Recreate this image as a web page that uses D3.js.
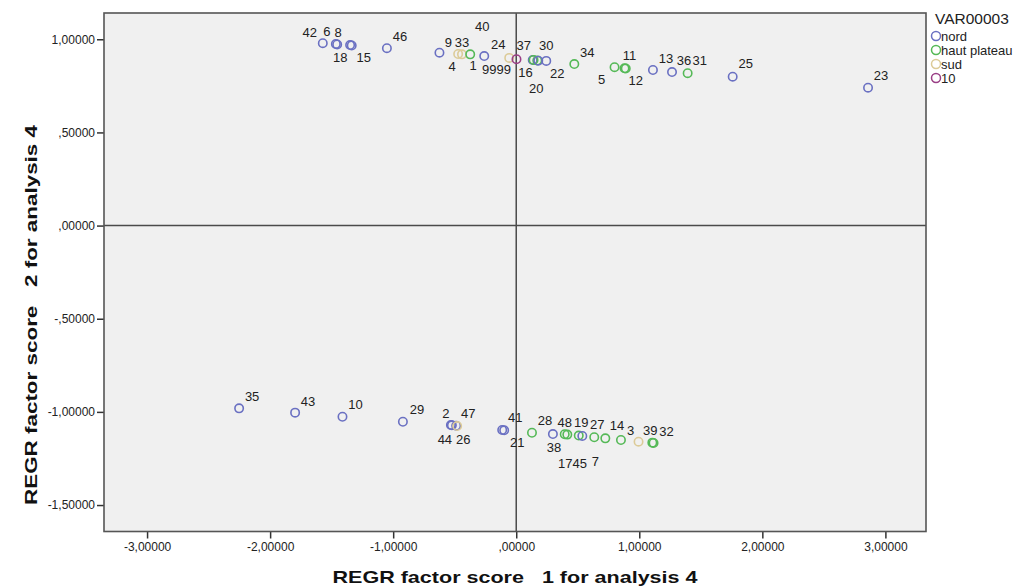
<!DOCTYPE html>
<html>
<head>
<meta charset="utf-8">
<script src="https://cdn.jsdelivr.net/npm/d3@7"></script>
<style>
  html, body { margin: 0; padding: 0; background: #ffffff; }
  svg { display: block; font-family: Arial, "Liberation Sans", sans-serif; }
</style>
</head>
<body>
<svg id="chart" width="1021" height="586"></svg>
<script>
// Case identifiers shown next to each point
const caseIds = [
  "42", "6", "18", "8", "15", "46", "9", "4", "33", "1", "24", "40", "9999",
  "37", "16", "20", "22", "30", "34", "5", "11", "12", "13", "36", "31", "25", "23",
  "35", "43", "10", "29", "2", "44", "47", "26", "41", "21", "28", "38", "48",
  "17", "45", "19", "27", "7", "14", "3", "39", "32"
];

// REGR factor score 1 for analysis 4
const factor1 = [
  -1.572, -1.466, -1.455, -1.350, -1.337, -1.051, -0.624, -0.472, -0.441, -0.374, -0.260, -0.057, 0.002,
  0.134, 0.141, 0.171, 0.179, 0.244, 0.472, 0.799, 0.880, 0.890, 1.111, 1.266, 1.393, 1.759, 2.859,
  -2.252, -1.797, -1.412, -0.921, -0.531, -0.523, -0.488, -0.480, -0.114, -0.098, 0.128, 0.298, 0.394,
  0.415, 0.508, 0.537, 0.634, 0.724, 0.851, 0.994, 1.106, 1.116
];

// REGR factor score 2 for analysis 4
const factor2 = [
  0.979, 0.975, 0.972, 0.969, 0.967, 0.952, 0.928, 0.921, 0.919, 0.919, 0.910, 0.900, 0.893,
  0.889, 0.889, 0.886, 0.885, 0.884, 0.867, 0.850, 0.844, 0.843, 0.835, 0.824, 0.818, 0.799, 0.740,
  -0.981, -1.004, -1.026, -1.053, -1.070, -1.072, -1.074, -1.076, -1.097, -1.099, -1.112, -1.119, -1.120,
  -1.122, -1.127, -1.129, -1.136, -1.142, -1.151, -1.160, -1.165, -1.167
];

// VAR00003 group of each case
const var00003 = [
  "nord", "nord", "nord", "nord", "nord", "nord", "nord", "sud", "sud", "haut plateau", "nord", "sud", "10",
  "nord", "haut plateau", "haut plateau", "nord", "nord", "haut plateau", "haut plateau", "haut plateau", "haut plateau", "nord", "nord", "haut plateau", "nord", "nord",
  "nord", "nord", "nord", "nord", "nord", "nord", "nord", "sud", "nord", "nord", "haut plateau", "nord", "haut plateau",
  "haut plateau", "haut plateau", "nord", "haut plateau", "haut plateau", "haut plateau", "sud", "haut plateau", "haut plateau"
];

const groupNames = ["nord", "haut plateau", "sud", "10"];

const xTickValues = [-3, -2, -1, 0, 1, 2, 3];
const xTickLabels = ["-3,00000", "-2,00000", "-1,00000", ",00000", "1,00000", "2,00000", "3,00000"];
const yTickValues = [1, 0.5, 0, -0.5, -1, -1.5];
const yTickLabels = ["1,00000", ",50000", ",00000", "-,50000", "-1,00000", "-1,50000"];

const xTitle = "REGR factor score   1 for analysis 4";
const yTitle = "REGR factor score   2 for analysis 4";
const legendTitle = "VAR00003";

// Placement of each case label relative to its marker (pixels)
const labelOffsets = [
  [-13, -11], [-9, -12], [3, 13], [-12, -13], [12, 12], [13, -12], [9, -10], [-6, 13], [0, -12], [3, 11], [14, -12], [-27, -31], [-20, 10],
  [-9, -14], [-8, 13], [-1, 28], [19, 13], [0, -15], [13, -12], [-13, 12], [5, -13], [10, 12], [13, -12], [12, -12], [12, -13], [13, -13], [13, -12],
  [13, -12], [13, -11], [13, -12], [14, -12], [-5, -11], [-7, 14], [12, -12], [6, 13], [13, -12], [13, 12], [13, -12], [1, 13], [0, -12],
  [-2, 29], [1, 28], [-1, -13], [3, -13], [-10, 23], [-4, -15], [-8, -11], [-2, -12], [13, -12]
];

const colors = {
  "nord": "#6a70c2",
  "haut plateau": "#55b957",
  "sud": "#dccb98",
  "10": "#9a3f86"
};

const plot = { left: 104, right: 926, top: 13, bottom: 531.5 };

const svg = d3.select("#chart");

const x = d3.scaleLinear().domain([-3.35, 3.33]).range([plot.left, plot.right]);
const y = d3.scaleLinear().domain([-1.642, 1.141]).range([plot.bottom, plot.top]);

// plot background
svg.append("rect")
  .attr("x", plot.left).attr("y", plot.top)
  .attr("width", plot.right - plot.left).attr("height", plot.bottom - plot.top)
  .attr("fill", "#f0f0f0");

// reference lines through the origin
svg.append("line")
  .attr("x1", x(0)).attr("x2", x(0)).attr("y1", plot.top).attr("y2", plot.bottom)
  .attr("stroke", "#4a4a4a").attr("stroke-width", 1.5);
svg.append("line")
  .attr("x1", plot.left).attr("x2", plot.right).attr("y1", y(0)).attr("y2", y(0))
  .attr("stroke", "#4a4a4a").attr("stroke-width", 1.5);

// axes
const xAxis = d3.axisBottom(x)
  .tickValues(xTickValues)
  .tickFormat((d, i) => xTickLabels[i])
  .tickSize(7).tickPadding(4);
const yAxis = d3.axisLeft(y)
  .tickValues(yTickValues)
  .tickFormat((d, i) => yTickLabels[i])
  .tickSize(7).tickPadding(2);

const gx = svg.append("g").attr("transform", `translate(0,${plot.bottom})`).call(xAxis);
const gy = svg.append("g").attr("transform", `translate(${plot.left},0)`).call(yAxis);
[gx, gy].forEach(g => {
  g.select(".domain").remove();
  g.selectAll(".tick line").attr("stroke", "#333").attr("stroke-width", 1.5);
  g.selectAll(".tick text").attr("fill", "#222").style("font-size", "12px")
    .style("font-family", "Arial, 'Liberation Sans', sans-serif");
});

// frame
svg.append("rect")
  .attr("x", plot.left).attr("y", plot.top)
  .attr("width", plot.right - plot.left).attr("height", plot.bottom - plot.top)
  .attr("fill", "none").attr("stroke", "#555").attr("stroke-width", 1.6);

// points
const points = caseIds.map((id, i) => ({
  id, fx: factor1[i], fy: factor2[i], group: var00003[i], off: labelOffsets[i]
}));

svg.append("g").selectAll("circle")
  .data(points)
  .join("circle")
  .attr("cx", d => x(d.fx))
  .attr("cy", d => y(d.fy))
  .attr("r", 4.2)
  .attr("fill", "none")
  .attr("stroke", d => colors[d.group])
  .attr("stroke-width", 1.6);

svg.append("g").selectAll("text")
  .data(points)
  .join("text")
  .attr("x", d => x(d.fx) + d.off[0])
  .attr("y", d => y(d.fy) + d.off[1])
  .attr("text-anchor", "middle")
  .attr("dominant-baseline", "central")
  .attr("fill", "#222")
  .style("font-size", "13px")
  .text(d => d.id);

// axis titles
svg.append("text")
  .attr("x", 515)
  .attr("y", 577)
  .attr("text-anchor", "middle")
  .attr("dominant-baseline", "central")
  .attr("fill", "#111")
  .attr("textLength", 365)
  .attr("lengthAdjust", "spacingAndGlyphs")
  .style("white-space", "pre")
  .style("font-size", "17px").style("font-weight", "bold")
  .text(xTitle);

svg.append("text")
  .attr("transform", "translate(31,315) rotate(-90)")
  .attr("text-anchor", "middle")
  .attr("dominant-baseline", "central")
  .attr("fill", "#111")
  .attr("textLength", 380)
  .attr("lengthAdjust", "spacingAndGlyphs")
  .style("white-space", "pre")
  .style("font-size", "17px").style("font-weight", "bold")
  .text(yTitle);

// legend
const legend = svg.append("g").attr("transform", "translate(933,0)");
legend.append("text")
  .attr("x", 2).attr("y", 18)
  .attr("dominant-baseline", "central")
  .attr("fill", "#222").style("font-size", "15.5px")
  .text(legendTitle);
const items = legend.selectAll("g.item")
  .data(groupNames)
  .join("g")
  .attr("class", "item")
  .attr("transform", (d, i) => `translate(0,${36 + i * 14})`);
items.append("circle")
  .attr("cx", 3).attr("cy", 0).attr("r", 4.5)
  .attr("fill", "none").attr("stroke", d => colors[d]).attr("stroke-width", 1.5);
items.append("text")
  .attr("x", 8).attr("y", 0)
  .attr("dominant-baseline", "central")
  .attr("fill", "#222").style("font-size", "13px")
  .text(d => d);
</script>
</body>
</html>
